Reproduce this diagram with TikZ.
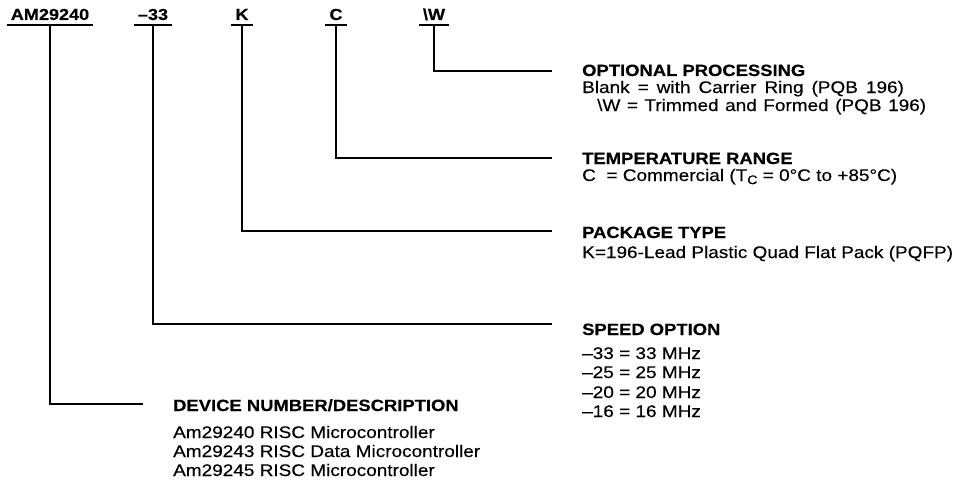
\documentclass[tikz,border=0pt]{standalone}
\usepackage{fontspec}
\setmainfont{Liberation Sans}[FakeStretch=1.13,FakeBold=0.35]
\newcommand\ttlfont{\fontsize{16}{19}\selectfont\bfseries}
\newcommand\hdrfont{\fontsize{16.3}{19}\selectfont\bfseries}
\newcommand\bdyfont{\fontsize{16.8}{19}\selectfont}
\newcommand\subC{\raisebox{-0.35ex}{\fontsize{12.5}{12}\selectfont C}}
\begin{document}
\begin{tikzpicture}[x=1pt,y=-1pt,
  conn/.style={line width=2.7pt,line join=miter},
  uline/.style={line width=2pt},
  lab/.style={font=\ttlfont,inner sep=0pt,anchor=base},
  hdr/.style={font=\hdrfont,inner sep=0pt,anchor=base west},
  bdy/.style={font=\bdyfont,inner sep=0pt,anchor=base west}]
\useasboundingbox[fill=white] (0,0) rectangle (962,495);

% part-number fields
\node[lab] (lA) at (50,20) {AM29240};
\node[lab] (lS) at (153,20) {\char"2013 33};
\node[lab] (lK) at (242,20) {K};
\node[lab] (lC) at (336,20) {C};
\node[lab] (lW) at (434,20) {\textbackslash W};
\foreach \n in {lA,lS,lK,lC,lW}
  \draw[uline] ([xshift=-4pt,yshift=-5pt]\n.base west) -- ([xshift=4pt,yshift=-5pt]\n.base east);

% connector end points
\coordinate (eW) at (552,71);
\coordinate (eC) at (552,158);
\coordinate (eK) at (552,231);
\coordinate (eS) at (552,324);
\coordinate (eA) at (143,404);

\draw[conn] ([yshift=-5pt]lW.base) |- (eW);
\draw[conn] ([yshift=-5pt]lC.base) |- (eC);
\draw[conn] ([yshift=-5pt]lK.base) |- (eK);
\draw[conn] ([yshift=-5pt]lS.base) |- (eS);
\draw[conn] ([yshift=-5pt]lA.base) |- (eA);

% optional processing
\node[hdr] (hW) at (582,76) {OPTIONAL PROCESSING};
\node[bdy] (bW1) at (582,93) {\spaceskip=8pt Blank = with Carrier Ring (PQB 196)};
\node[bdy] (bW2) at (597,111) {\spaceskip=6.5pt \textbackslash W = Trimmed and Formed (PQB 196)};

% temperature range
\node[hdr] (hC) at (582,164) {TEMPERATURE RANGE};
\node[bdy] (bC1) at (582,181) {C\ \ = Commercial (T\subC{} = 0°C to +85°C)};

% package type
\node[hdr] (hK) at (582,238) {PACKAGE TYPE};
\node[bdy] (bK1) at (582,258) {K=196-Lead Plastic Quad Flat Pack (PQFP)};

% speed option
\node[hdr] (hS) at (582,335) {SPEED OPTION};
\node[bdy] (bS1) at (582,359) {\char"2013 33 = 33 MHz};
\node[bdy] (bS2) at (582,378) {\char"2013 25 = 25 MHz};
\node[bdy] (bS3) at (582,398) {\char"2013 20 = 20 MHz};
\node[bdy] (bS4) at (582,417) {\char"2013 16 = 16 MHz};

% device number
\node[hdr] (hA) at (173,411) {DEVICE NUMBER/DESCRIPTION};
\node[bdy] (bA1) at (173,438) {Am29240 RISC Microcontroller};
\node[bdy] (bA2) at (173,457) {Am29243 RISC Data Microcontroller};
\node[bdy] (bA3) at (173,476) {Am29245 RISC Microcontroller};
\end{tikzpicture}
\end{document}
